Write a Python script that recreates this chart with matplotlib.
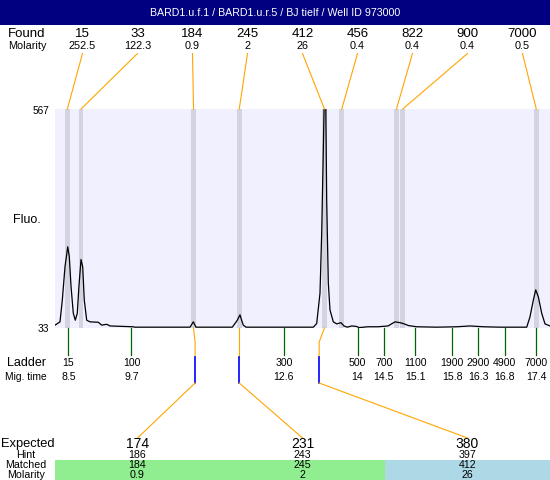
import matplotlib
matplotlib.use("Agg")
import matplotlib.pyplot as plt
from matplotlib.patches import Rectangle

plt.rcParams["font.family"] = ["Liberation Sans", "DejaVu Sans"]

title = "BARD1.u.f.1 / BARD1.u.r.5 / BJ tielf / Well ID 973000"

# found peaks (size, molarity, migration time)
found_size = ["15", "33", "184", "245", "412", "456", "822", "900", "7000"]
found_molarity = ["252.5", "122.3", "0.9", "2", "26", "0.4", "0.4", "0.4", "0.5"]
found_time = [8.48, 8.74, 10.88, 11.75, 13.37, 13.70, 14.74, 14.86, 17.40]

# ladder
ladder_size = ["15", "100", "300", "500", "700", "1100", "1900", "2900", "4900", "7000"]
ladder_time = [8.5, 9.7, 12.6, 14, 14.5, 15.1, 15.8, 16.3, 16.8, 17.4]

# expected fragments
expected = ["174", "231", "380"]
hint = ["186", "243", "397"]
matched = ["184", "245", "412"]
matched_molarity = ["0.9", "2", "26"]
matched_time = [10.88, 11.75, 13.37]
hint_time = [10.91, 11.75, 13.27]
match_colors = ["#90EE90", "#90EE90", "#ADD8E6"]

# electropherogram trace
trace_time = [8.245, 8.34, 8.384, 8.435, 8.487, 8.517, 8.55, 8.593, 8.631, 8.669,
              8.70, 8.74, 8.772, 8.802, 8.848, 8.911, 9.069, 9.133, 9.229, 9.291,
              9.729, 9.76, 10.813, 10.876, 10.927, 11.618, 11.713, 11.764, 11.80,
              11.827, 11.878, 13.159, 13.223, 13.286, 13.318, 13.349, 13.368,
              13.394, 13.413, 13.444, 13.476, 13.539, 13.604, 13.685, 13.742,
              13.805, 13.889, 13.971, 14.034, 14.199, 14.389, 14.580, 14.713,
              14.808, 14.890, 14.966, 15.126, 15.506, 15.886, 16.139, 16.392,
              16.710, 17.218, 17.280, 17.344, 17.389, 17.439, 17.503, 17.566, 17.661]
trace_fluo = [40, 48, 101, 182, 231, 207, 134, 69, 52, 69,
              134, 200, 182, 101, 52, 48, 47, 40, 42, 38,
              36, 35, 35, 48, 35, 35, 52, 65, 50,
              40, 35, 35, 44, 118, 264, 467, 600,
              600, 345, 143, 77, 48, 43, 46, 38,
              35, 38, 37, 34, 36, 36, 38, 48,
              46, 43, 39, 36, 35, 36, 38, 36,
              35, 35, 60, 101, 126, 109, 69, 43, 38]

y_min, y_max = 33, 567
t0, t1 = 8.245, 17.661

W, H = 550, 480
fig = plt.figure(figsize=(W / 100, H / 100), dpi=100)

# main plot area: x 55..550, y 109..328 (pixels)
ax = fig.add_axes([55 / W, 1 - 328 / H, 495 / W, 219 / H])
ax.set_facecolor("#F0F0FF")
ax.set_xlim(t0, t1)
ax.set_ylim(y_min, y_max)
for s in ax.spines.values():
    s.set_visible(False)
ax.set_xticks([])
ax.set_yticks([])

for t in found_time:
    ax.axvspan(t - 0.047, t + 0.047, color="#D3D3E1", lw=0)
ax.plot(trace_time, trace_fluo, color="black", lw=0.9)

# overlay in pixel coordinates for labels and connectors
ov = fig.add_axes([0, 0, 1, 1], zorder=5)
ov.set_xlim(0, W)
ov.set_ylim(H, 0)
ov.axis("off")


def tx(t):
    return 55 + (t - t0) / (t1 - t0) * 495


ov.add_patch(Rectangle((0, 0), W, 25, color="#000080", lw=0))
ov.text(W / 2, 13, title, color="white", fontsize=7.7, ha="center", va="center")

# found rows
ov.text(27, 34, "Found", fontsize=9.5, ha="center", va="center")
ov.text(27, 46, "Molarity", fontsize=7.8, ha="center", va="center")
for i, (s, m, t) in enumerate(zip(found_size, found_molarity, found_time)):
    lx = 55 * (i + 1.5)
    ov.text(lx, 34, s, fontsize=9.5, ha="center", va="center")
    ov.text(lx, 46, m, fontsize=7.8, ha="center", va="center")
    ov.plot([lx, tx(t)], [53.5, 109], color="orange", lw=0.8)

# y axis labels
ov.text(49, 110.5, str(y_max), fontsize=7.3, ha="right", va="center")
ov.text(49, 329, str(y_min), fontsize=7.3, ha="right", va="center")
ov.text(27, 220, "Fluo.", fontsize=9, ha="center", va="center")

# ladder rows
ov.text(27, 363.5, "Ladder", fontsize=9, ha="center", va="center")
ov.text(26, 376.5, "Mig. time", fontsize=7.4, ha="center", va="center")
for s, t in zip(ladder_size, ladder_time):
    x = tx(t)
    ov.plot([x, x], [328, 355], color="#006400", lw=0.9)
    ov.text(x, 363.5, s, fontsize=7.6, ha="center", va="center")
    ov.text(x, 376.5, f"{t:g}", fontsize=7.6, ha="center", va="center")

# expected / matched rows
ov.text(0.5, 444, "Expected", fontsize=9.3, ha="left", va="center")
ov.text(26, 455, "Hint", fontsize=7.7, ha="center", va="center")
ov.text(26, 465, "Matched", fontsize=7.7, ha="center", va="center")
ov.text(26, 475.5, "Molarity", fontsize=7.7, ha="center", va="center")
for k in range(len(expected)):
    ex = 55 * (2.5 + 3 * k)
    ov.add_patch(Rectangle((ex - 82.5, 460), 165, 20, color=match_colors[k], lw=0))
    ov.text(ex, 444, expected[k], fontsize=10, ha="center", va="center")
    ov.text(ex, 455, hint[k], fontsize=7.7, ha="center", va="center")
    ov.text(ex, 465, matched[k], fontsize=7.7, ha="center", va="center")
    ov.text(ex, 475.5, matched_molarity[k], fontsize=7.7, ha="center", va="center")
    bx, hx = tx(matched_time[k]), tx(hint_time[k])
    ov.plot([bx, hx, hx], [328, 342, 357], color="orange", lw=0.8)
    ov.plot([hx, hx], [357, 383], color="#0000FF", lw=1.2)
    ov.plot([hx, ex], [383, 438], color="orange", lw=0.8)

fig.savefig("out.png", dpi=100)
